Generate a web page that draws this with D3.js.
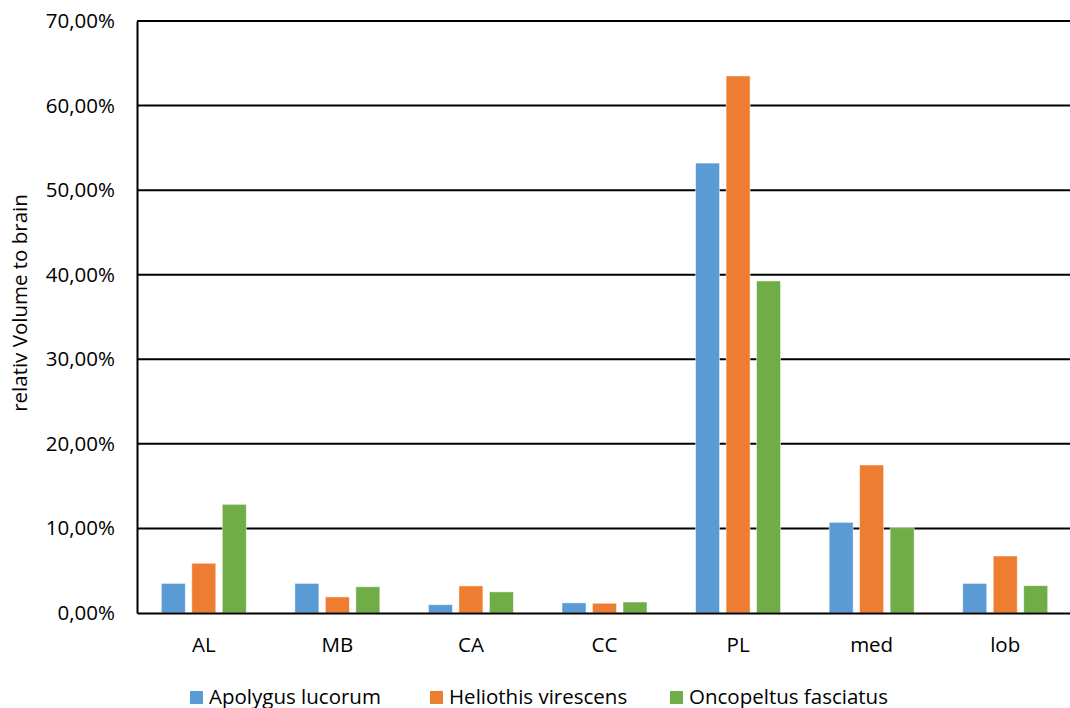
<!DOCTYPE html>
<html>
<head>
<meta charset="utf-8">
<script src="https://cdn.jsdelivr.net/npm/d3@7"></script>
<style>
  html, body { margin: 0; padding: 0; background: #fff; }
  svg text { font-family: "Open Sans", "Noto Sans", sans-serif; fill: #000; }
</style>
</head>
<body>
<svg id="chart" width="1070" height="708"></svg>
<script>
// Brain regions and relative volume (fraction of whole brain) per species
const categories = ["AL", "MB", "CA", "CC", "PL", "med", "lob"];
const seriesNames = ["Apolygus lucorum", "Heliothis virescens", "Oncopeltus fasciatus"];
const apolygus   = [0.035, 0.035, 0.0098, 0.012, 0.532, 0.1072, 0.035];
const heliothis  = [0.0588, 0.019, 0.032, 0.0115, 0.635, 0.175, 0.0674];
const oncopeltus = [0.1285, 0.031, 0.025, 0.013, 0.3926, 0.1009, 0.0323];
const yTicks = [0, 0.1, 0.2, 0.3, 0.4, 0.5, 0.6, 0.7];
const colors = ["#5B9BD5", "#ED7D31", "#70AD47"];

const seriesValues = [apolygus, heliothis, oncopeltus];
const fontSize = 20.5;

const svg = d3.select("#chart");
const plotLeft = 137, plotRight = 1072, plotTop = 21, plotBottom = 613;

const x = d3.scaleBand().domain(categories).range([plotLeft, plotRight]).paddingInner(0).paddingOuter(0);
const xInner = d3.scaleBand().domain(d3.range(seriesNames.length))
  .range([0, x.bandwidth()]).paddingInner(0.213).paddingOuter(0.797);
const y = d3.scaleLinear().domain([0, 0.7]).range([plotBottom, plotTop]);

const fmt = v => d3.format(".2f")(v * 100).replace(".", ",") + "%";

// horizontal gridlines
svg.append("g").selectAll("line").data(yTicks.filter(t => t > 0)).join("line")
  .attr("x1", plotLeft).attr("x2", plotRight)
  .attr("y1", d => y(d)).attr("y2", d => y(d))
  .attr("stroke", "#000").attr("stroke-width", 2);

// bars
const groups = svg.append("g").selectAll("g").data(categories).join("g")
  .attr("transform", d => `translate(${x(d)},0)`);
groups.selectAll("rect")
  .data((c, ci) => seriesValues.map((vals, si) => ({ si, v: vals[ci] })))
  .join("rect")
  .attr("x", d => xInner(d.si))
  .attr("width", xInner.bandwidth())
  .attr("y", d => y(d.v))
  .attr("height", d => y(0) - y(d.v))
  .attr("fill", d => colors[d.si])
  .attr("stroke", "#fff").attr("stroke-width", 0.8).attr("stroke-opacity", 0.6);

// y axis
const yAxis = d3.axisLeft(y).tickValues(yTicks).tickFormat(fmt).tickSize(0).tickPadding(22);
const yg = svg.append("g").attr("transform", `translate(${plotLeft},0)`).call(yAxis);
yg.select(".domain").attr("stroke", "#000").attr("stroke-width", 2);
yg.selectAll("text").attr("font-size", fontSize).attr("font-family", "Open Sans");

// x axis baseline and labels
const xAxis = d3.axisBottom(x).tickSize(0).tickPadding(24.5);
const xg = svg.append("g").attr("transform", `translate(0,${plotBottom})`).call(xAxis);
xg.select(".domain").attr("stroke", "#000").attr("stroke-width", 2);
xg.selectAll("text").attr("font-size", fontSize).attr("font-family", "Open Sans");

// y axis title
svg.append("text")
  .attr("transform", `translate(27,303) rotate(-90)`)
  .attr("text-anchor", "middle")
  .attr("font-size", fontSize)
  .text("relativ Volume to brain");

// legend
const legendX = [190, 430, 670];
const lg = svg.append("g").selectAll("g").data(seriesNames).join("g")
  .attr("transform", (d, i) => `translate(${legendX[i]},691)`);
lg.append("rect").attr("width", 13).attr("height", 13).attr("fill", (d, i) => colors[i]);
lg.append("text").attr("x", 19).attr("y", 12.5).attr("font-size", fontSize).text(d => d);
</script>
</body>
</html>
